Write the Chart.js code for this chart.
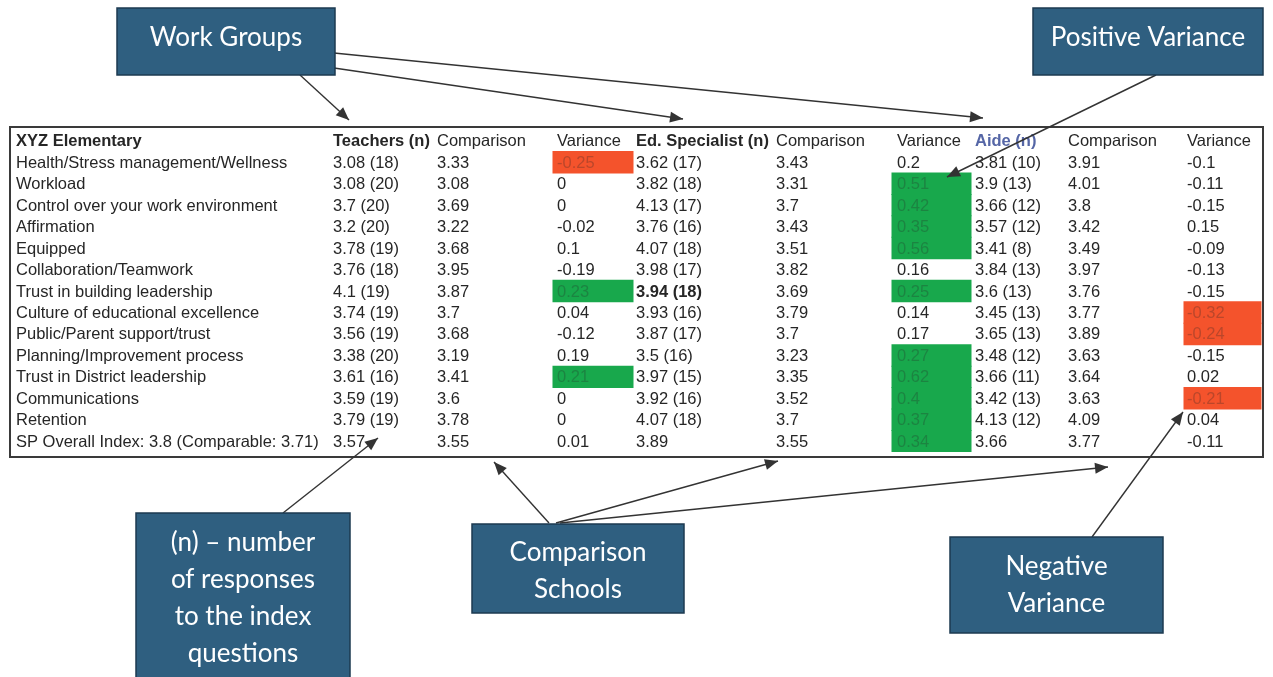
<!DOCTYPE html>
<html>
<head>
<meta charset="utf-8">
<title>XYZ Elementary – Index by Work Group</title>
<script src="https://cdn.jsdelivr.net/npm/chart.js@4.4.1/dist/chart.umd.min.js"></script>
<style>
  html, body { margin: 0; padding: 0; background: #ffffff; }
  #wrap { width: 1273px; height: 677px; }
</style>
</head>
<body>
<div id="wrap"><canvas id="chart" width="1273" height="677"></canvas></div>
<script>
// ---- table content ----
const schoolName = 'XYZ Elementary';
const rowNames = [
  'Health/Stress management/Wellness', 'Workload', 'Control over your work environment',
  'Affirmation', 'Equipped', 'Collaboration/Teamwork', 'Trust in building leadership',
  'Culture of educational excellence', 'Public/Parent support/trust',
  'Planning/Improvement process', 'Trust in District leadership', 'Communications',
  'Retention', 'SP Overall Index: 3.8 (Comparable: 3.71)'
];
const groupHeaders = ['Teachers (n)', 'Ed. Specialist (n)', 'Aide (n)'];
const compHeader = 'Comparison';
const varHeader = 'Variance';

const teacherMean = [3.08, 3.08, 3.7, 3.2, 3.78, 3.76, 4.1, 3.74, 3.56, 3.38, 3.61, 3.59, 3.79, 3.57];
const teacherN    = [18, 20, 20, 20, 19, 18, 19, 19, 19, 20, 16, 19, 19, null];
const teacherComp = [3.33, 3.08, 3.69, 3.22, 3.68, 3.95, 3.87, 3.7, 3.68, 3.19, 3.41, 3.6, 3.78, 3.55];
const teacherVar  = [-0.25, 0, 0, -0.02, 0.1, -0.19, 0.23, 0.04, -0.12, 0.19, 0.21, 0, 0, 0.01];

const edMean = [3.62, 3.82, 4.13, 3.76, 4.07, 3.98, 3.94, 3.93, 3.87, 3.5, 3.97, 3.92, 4.07, 3.89];
const edN    = [17, 18, 17, 16, 18, 17, 18, 16, 17, 16, 15, 16, 18, null];
const edComp = [3.43, 3.31, 3.7, 3.43, 3.51, 3.82, 3.69, 3.79, 3.7, 3.23, 3.35, 3.52, 3.7, 3.55];
const edVar  = [0.2, 0.51, 0.42, 0.35, 0.56, 0.16, 0.25, 0.14, 0.17, 0.27, 0.62, 0.4, 0.37, 0.34];

const aideMean = [3.81, 3.9, 3.66, 3.57, 3.41, 3.84, 3.6, 3.45, 3.65, 3.48, 3.66, 3.42, 4.13, 3.66];
const aideN    = [10, 13, 12, 12, 8, 13, 13, 13, 13, 12, 11, 13, 12, null];
const aideComp = [3.91, 4.01, 3.8, 3.42, 3.49, 3.97, 3.76, 3.77, 3.89, 3.63, 3.64, 3.63, 4.09, 3.77];
const aideVar  = [-0.1, -0.11, -0.15, 0.15, -0.09, -0.13, -0.15, -0.32, -0.24, -0.15, 0.02, -0.21, 0.04, -0.11];

// variances beyond this size are flagged with a coloured cell
const flagLimit = 0.2;

// ---- layout (x in table units, 0 = inner left edge of the frame) ----
const tableWidth = 1251;
const colText = { label: 5, tMean: 322, tComp: 426, tVar: 546, eMean: 625, eComp: 765, eVar: 886, aMean: 964, aComp: 1057, aVar: 1176 };
const varCells = { t: [542, 622], e: [881, 960], a: [1173, 1250] };
const GREEN = '#18a84c';
const RED = '#f4532c';
const TEXT = '#262626';
const FONT = '"Liberation Sans", Arial, sans-serif';
const CALLOUT_FONT = 'Lato, "Open Sans", sans-serif';

const yLabels = [schoolName].concat(rowNames);

function flagCells(vars, cell) {
  return [null].concat(vars.map(v => Math.abs(v) > flagLimit ? cell : null));
}
function flagColors(vars) {
  return [null].concat(vars.map(v => v > flagLimit ? GREEN : (v < -flagLimit ? RED : 'rgba(0,0,0,0)')));
}
function meanText(m, n) { return n == null ? String(m) : m + ' (' + n + ')'; }

// ---- frame and cell text, drawn through the chart scales ----
const tableText = {
  id: 'tableText',
  beforeDatasetsDraw(chart) {
    const { ctx, chartArea: a } = chart;
    ctx.save();
    ctx.strokeStyle = '#3a3a3a';
    ctx.lineWidth = 2;
    ctx.strokeRect(a.left - 1, a.top - 3, a.right - a.left + 2, a.bottom - a.top + 8);
    ctx.restore();
  },
  afterDatasetsDraw(chart) {
    const { ctx } = chart;
    const xs = chart.scales.x, ys = chart.scales.y;
    const X = k => xs.getPixelForValue(colText[k]);
    ctx.save();
    ctx.textBaseline = 'middle';
    ctx.textAlign = 'left';
    const put = (txt, k, row, opts = {}) => {
      ctx.font = (opts.bold ? 'bold ' : '') + '16.5px ' + FONT;
      ctx.fillStyle = opts.color || TEXT;
      ctx.fillText(txt, X(k), ys.getPixelForValue(row) + 1);
    };
    // header row
    put(schoolName, 'label', 0, { bold: true });
    put(groupHeaders[0], 'tMean', 0, { bold: true });
    put(compHeader, 'tComp', 0);
    put(varHeader, 'tVar', 0);
    put(groupHeaders[1], 'eMean', 0, { bold: true });
    put(compHeader, 'eComp', 0);
    put(varHeader, 'eVar', 0);
    put(groupHeaders[2], 'aMean', 0, { bold: true, color: '#5566a6' });
    put(compHeader, 'aComp', 0);
    put(varHeader, 'aVar', 0);
    const faint = 'rgba(40,40,40,0.28)';
    const varColor = v => Math.abs(v) > flagLimit ? faint : TEXT;
    rowNames.forEach((name, i) => {
      const r = i + 1;
      put(name, 'label', r);
      put(meanText(teacherMean[i], teacherN[i]), 'tMean', r);
      put(String(teacherComp[i]), 'tComp', r);
      put(String(teacherVar[i]), 'tVar', r, { color: varColor(teacherVar[i]) });
      put(meanText(edMean[i], edN[i]), 'eMean', r, { bold: i === 6 });
      put(String(edComp[i]), 'eComp', r);
      put(String(edVar[i]), 'eVar', r, { color: varColor(edVar[i]) });
      put(meanText(aideMean[i], aideN[i]), 'aMean', r);
      put(String(aideComp[i]), 'aComp', r);
      put(String(aideVar[i]), 'aVar', r, { color: varColor(aideVar[i]) });
    });
    ctx.restore();
  }
};

// ---- explanatory callouts around the table ----
function arrow(ctx, x1, y1, x2, y2) {
  ctx.beginPath();
  ctx.moveTo(x1, y1);
  ctx.lineTo(x2, y2);
  ctx.stroke();
  const ang = Math.atan2(y2 - y1, x2 - x1), L = 13, W = 5.5;
  ctx.beginPath();
  ctx.moveTo(x2, y2);
  ctx.lineTo(x2 - L * Math.cos(ang) + W * Math.sin(ang), y2 - L * Math.sin(ang) - W * Math.cos(ang));
  ctx.lineTo(x2 - L * Math.cos(ang) - W * Math.sin(ang), y2 - L * Math.sin(ang) + W * Math.cos(ang));
  ctx.closePath();
  ctx.fill();
}
function callout(ctx, x, y, w, h, lines, lineGap, textY) {
  ctx.fillStyle = '#2f5f80';
  ctx.fillRect(x, y, w, h);
  ctx.strokeStyle = '#1d3a50';
  ctx.lineWidth = 1.5;
  ctx.strokeRect(x, y, w, h);
  ctx.fillStyle = '#ffffff';
  ctx.font = '26px ' + CALLOUT_FONT;
  ctx.textAlign = 'center';
  ctx.textBaseline = 'middle';
  const cx = x + w / 2;
  lines.forEach((t, i) => ctx.fillText(t, cx, textY + i * lineGap));
}
const callouts = {
  id: 'callouts',
  afterDraw(chart) {
    const { ctx } = chart;
    ctx.save();
    ctx.strokeStyle = '#333333';
    ctx.fillStyle = '#333333';
    ctx.lineWidth = 1.4;
    arrow(ctx, 300, 75, 349, 120);
    arrow(ctx, 334, 68, 683, 119);
    arrow(ctx, 334, 53, 983, 118);
    arrow(ctx, 1156, 75, 947, 177);
    arrow(ctx, 283, 513, 378, 438);
    arrow(ctx, 549, 523, 494, 462);
    arrow(ctx, 556, 523, 778, 461);
    arrow(ctx, 560, 523, 1108, 467);
    arrow(ctx, 1092, 537, 1183, 412);
    callout(ctx, 117, 8, 218, 67, ['Work Groups'], 0, 38);
    callout(ctx, 1033, 8, 230, 67, ['Positive Variance'], 0, 38);
    callout(ctx, 136, 513, 214, 170, ['(n) – number', 'of responses', 'to the index', 'questions'], 37, 543);
    callout(ctx, 472, 524, 212, 89, ['Comparison', 'Schools'], 37, 553);
    callout(ctx, 950, 537, 213, 96, ['Negative', 'Variance'], 37, 567);
    ctx.restore();
  }
};

new Chart(document.getElementById('chart'), {
  type: 'bar',
  data: {
    labels: yLabels,
    datasets: [
      { label: 'Teachers variance', data: flagCells(teacherVar, varCells.t), backgroundColor: flagColors(teacherVar) },
      { label: 'Ed. Specialist variance', data: flagCells(edVar, varCells.e), backgroundColor: flagColors(edVar) },
      { label: 'Aide variance', data: flagCells(aideVar, varCells.a), backgroundColor: flagColors(aideVar) }
    ]
  },
  options: {
    indexAxis: 'y',
    responsive: false,
    animation: false,
    layout: { padding: { left: 11, right: 11, top: 130, bottom: 225 } },
    datasets: { bar: { barPercentage: 1, categoryPercentage: 1, borderWidth: 0, grouped: false, inflateAmount: 0.5 } },
    scales: {
      x: { type: 'linear', min: 0, max: tableWidth, display: false },
      y: { type: 'category', display: false, offset: true }
    },
    plugins: { legend: { display: false }, tooltip: { enabled: false } }
  },
  plugins: [tableText, callouts]
});
</script>
</body>
</html>
